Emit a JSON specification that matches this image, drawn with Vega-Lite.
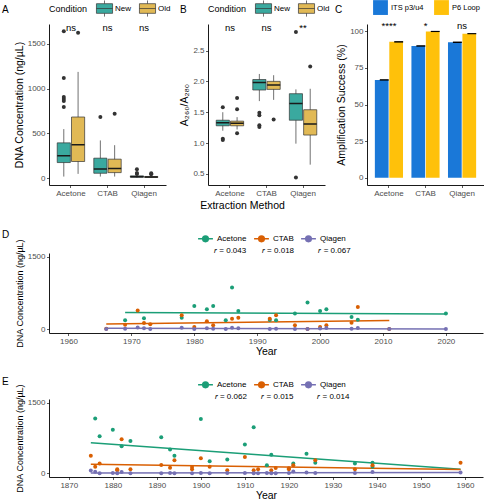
{
  "$schema": "https://vega.github.io/schema/vega-lite/v6.json",
  "background": "white",
  "padding": {"left": 2, "top": 0, "right": 0, "bottom": 0},
  "config": {
    "font": "Liberation Sans",
    "view": {"stroke": null},
    "axis": {"grid": false, "domainColor": "black", "domainWidth": 0.9, "tickColor": "#333333", "tickSize": 2.5, "tickWidth": 0.8, "labelColor": "#4D4D4D", "labelFontSize": 8, "labelPadding": 1.5, "titleFontSize": 10.5, "titleFontWeight": "normal", "titleColor": "black", "titlePadding": 3},
    "legend": {"labelFontSize": 8, "labelColor": "black", "titleFontSize": 9, "titleFontWeight": "normal", "titleColor": "black"},
    "title": {"fontSize": 10, "fontWeight": "normal", "anchor": "start", "frame": "group", "color": "black"}
  },
  "datasets": {
    "boxA": [
      {"method": "Acetone", "cond": "New", "lower": 19, "q1": 175, "median": 250, "q3": 395, "upper": 548},
      {"method": "Acetone", "cond": "Old", "lower": 49, "q1": 187, "median": 373, "q3": 683, "upper": 1186},
      {"method": "CTAB", "cond": "New", "lower": 19, "q1": 56, "median": 104, "q3": 224, "upper": 422},
      {"method": "CTAB", "cond": "Old", "lower": 19, "q1": 63, "median": 108, "q3": 213, "upper": 369},
      {"method": "Qiagen", "cond": "New", "lower": 5, "q1": 12, "median": 18, "q3": 27, "upper": 40},
      {"method": "Qiagen", "cond": "Old", "lower": 4, "q1": 9, "median": 13, "q3": 20, "upper": 35}
    ],
    "outA": [
      {"method": "Acetone", "cond": "New", "value": 795},
      {"method": "Acetone", "cond": "New", "value": 862},
      {"method": "Acetone", "cond": "New", "value": 884},
      {"method": "Acetone", "cond": "New", "value": 907},
      {"method": "Acetone", "cond": "New", "value": 1119},
      {"method": "Acetone", "cond": "New", "value": 1638},
      {"method": "Acetone", "cond": "Old", "value": 1623},
      {"method": "CTAB", "cond": "New", "value": 683},
      {"method": "CTAB", "cond": "Old", "value": 720},
      {"method": "Qiagen", "cond": "New", "value": 100},
      {"method": "Qiagen", "cond": "New", "value": 60},
      {"method": "Qiagen", "cond": "New", "value": 49},
      {"method": "Qiagen", "cond": "Old", "value": 56},
      {"method": "Qiagen", "cond": "Old", "value": 45}
    ],
    "sigA": [
      {"method": "Acetone", "label": "ns"},
      {"method": "CTAB", "label": "ns"},
      {"method": "Qiagen", "label": "ns"}
    ],
    "boxB": [
      {"method": "Acetone", "cond": "New", "lower": 1.2, "q1": 1.28, "median": 1.33, "q3": 1.37, "upper": 1.5},
      {"method": "Acetone", "cond": "Old", "lower": 1.22, "q1": 1.28, "median": 1.32, "q3": 1.355, "upper": 1.42},
      {"method": "CTAB", "cond": "New", "lower": 1.68, "q1": 1.86, "median": 1.98, "q3": 2.03, "upper": 2.12},
      {"method": "CTAB", "cond": "Old", "lower": 1.7, "q1": 1.87, "median": 1.94, "q3": 2.0, "upper": 2.1},
      {"method": "Qiagen", "cond": "New", "lower": 0.99, "q1": 1.37, "median": 1.64, "q3": 1.8, "upper": 1.87},
      {"method": "Qiagen", "cond": "Old", "lower": 0.65, "q1": 1.13, "median": 1.31, "q3": 1.54, "upper": 1.88}
    ],
    "outB": [
      {"method": "Acetone", "cond": "New", "value": 1.58},
      {"method": "Acetone", "cond": "New", "value": 1.07},
      {"method": "Acetone", "cond": "New", "value": 1.05},
      {"method": "Acetone", "cond": "Old", "value": 1.73},
      {"method": "Acetone", "cond": "Old", "value": 1.55},
      {"method": "Acetone", "cond": "Old", "value": 1.16},
      {"method": "CTAB", "cond": "New", "value": 1.49},
      {"method": "CTAB", "cond": "New", "value": 1.45},
      {"method": "CTAB", "cond": "New", "value": 1.29},
      {"method": "CTAB", "cond": "New", "value": 1.26},
      {"method": "CTAB", "cond": "Old", "value": 1.38},
      {"method": "Qiagen", "cond": "New", "value": 2.8},
      {"method": "Qiagen", "cond": "New", "value": 0.44},
      {"method": "Qiagen", "cond": "Old", "value": 2.24}
    ],
    "sigB": [
      {"method": "Acetone", "label": "ns"},
      {"method": "CTAB", "label": "ns"},
      {"method": "Qiagen", "label": "**"}
    ],
    "barC": [
      {"method": "Acetone", "primer": "ITS p3/u4", "value": 66.8, "lo": 66.3, "hi": 67.3},
      {"method": "Acetone", "primer": "P6 Loop", "value": 92.8, "lo": 92.3, "hi": 93.3},
      {"method": "CTAB", "primer": "ITS p3/u4", "value": 90.0, "lo": 89.5, "hi": 90.5},
      {"method": "CTAB", "primer": "P6 Loop", "value": 99.9, "lo": 99.5, "hi": 100.3},
      {"method": "Qiagen", "primer": "ITS p3/u4", "value": 92.5, "lo": 92.0, "hi": 93.0},
      {"method": "Qiagen", "primer": "P6 Loop", "value": 98.4, "lo": 98.0, "hi": 98.8}
    ],
    "sigC": [
      {"method": "Acetone", "label": "****"},
      {"method": "CTAB", "label": "*"},
      {"method": "Qiagen", "label": "ns"}
    ],
    "pointsD": [
      {"series": "Acetone", "year": 1969, "value": 187},
      {"series": "Acetone", "year": 1972, "value": 228},
      {"series": "Acetone", "year": 1978, "value": 242},
      {"series": "Acetone", "year": 1980, "value": 484},
      {"series": "Acetone", "year": 1982, "value": 415},
      {"series": "Acetone", "year": 1983, "value": 484},
      {"series": "Acetone", "year": 1985, "value": 187},
      {"series": "Acetone", "year": 1986, "value": 864},
      {"series": "Acetone", "year": 1987, "value": 380},
      {"series": "Acetone", "year": 1992, "value": 194},
      {"series": "Acetone", "year": 1993, "value": 187},
      {"series": "Acetone", "year": 1996, "value": 325},
      {"series": "Acetone", "year": 1998, "value": 553},
      {"series": "Acetone", "year": 2000, "value": 380},
      {"series": "Acetone", "year": 2001, "value": 415},
      {"series": "Acetone", "year": 2005, "value": 256},
      {"series": "Acetone", "year": 2006, "value": 200},
      {"series": "Acetone", "year": 2020, "value": 325},
      {"series": "CTAB", "year": 1966, "value": 15},
      {"series": "CTAB", "year": 1969, "value": 97},
      {"series": "CTAB", "year": 1971, "value": 387},
      {"series": "CTAB", "year": 1972, "value": 131},
      {"series": "CTAB", "year": 1973, "value": 104},
      {"series": "CTAB", "year": 1978, "value": 290},
      {"series": "CTAB", "year": 1980, "value": 48},
      {"series": "CTAB", "year": 1982, "value": 166},
      {"series": "CTAB", "year": 1983, "value": 83},
      {"series": "CTAB", "year": 1986, "value": 221},
      {"series": "CTAB", "year": 1987, "value": 242},
      {"series": "CTAB", "year": 1992, "value": 221},
      {"series": "CTAB", "year": 1993, "value": 290},
      {"series": "CTAB", "year": 1996, "value": 83},
      {"series": "CTAB", "year": 1998, "value": 8},
      {"series": "CTAB", "year": 2000, "value": 48},
      {"series": "CTAB", "year": 2001, "value": 83},
      {"series": "CTAB", "year": 2005, "value": 138},
      {"series": "CTAB", "year": 2006, "value": 463},
      {"series": "CTAB", "year": 2011, "value": 10},
      {"series": "Qiagen", "year": 1966, "value": 5},
      {"series": "Qiagen", "year": 1969, "value": 14},
      {"series": "Qiagen", "year": 1971, "value": 40},
      {"series": "Qiagen", "year": 1972, "value": 25},
      {"series": "Qiagen", "year": 1973, "value": 10},
      {"series": "Qiagen", "year": 1978, "value": 35},
      {"series": "Qiagen", "year": 1980, "value": 5},
      {"series": "Qiagen", "year": 1982, "value": 25},
      {"series": "Qiagen", "year": 1983, "value": 15},
      {"series": "Qiagen", "year": 1985, "value": 5},
      {"series": "Qiagen", "year": 1986, "value": 35},
      {"series": "Qiagen", "year": 1987, "value": 25},
      {"series": "Qiagen", "year": 1992, "value": 8},
      {"series": "Qiagen", "year": 1993, "value": 12},
      {"series": "Qiagen", "year": 1996, "value": 8},
      {"series": "Qiagen", "year": 1998, "value": 8},
      {"series": "Qiagen", "year": 2000, "value": 20},
      {"series": "Qiagen", "year": 2001, "value": 30},
      {"series": "Qiagen", "year": 2005, "value": 12},
      {"series": "Qiagen", "year": 2006, "value": 30},
      {"series": "Qiagen", "year": 2011, "value": 5},
      {"series": "Qiagen", "year": 2020, "value": 8}
    ],
    "linesD": [
      {"series": "Acetone", "year": 1969, "value": 346},
      {"series": "Acetone", "year": 2020, "value": 318},
      {"series": "CTAB", "year": 1966, "value": 110},
      {"series": "CTAB", "year": 2011, "value": 185},
      {"series": "Qiagen", "year": 1966, "value": 22},
      {"series": "Qiagen", "year": 2020, "value": 10}
    ],
    "rD": [
      {"series": "Acetone", "label": "𝑟 = 0.043"},
      {"series": "CTAB", "label": "𝑟 = 0.018"},
      {"series": "Qiagen", "label": "𝑟 = 0.067"}
    ],
    "pointsE": [
      {"series": "Acetone", "year": 1876, "value": 1164},
      {"series": "Acetone", "year": 1877, "value": 788},
      {"series": "Acetone", "year": 1880, "value": 925},
      {"series": "Acetone", "year": 1882, "value": 575},
      {"series": "Acetone", "year": 1884, "value": 685},
      {"series": "Acetone", "year": 1891, "value": 767},
      {"series": "Acetone", "year": 1893, "value": 507},
      {"series": "Acetone", "year": 1894, "value": 377},
      {"series": "Acetone", "year": 1900, "value": 1151},
      {"series": "Acetone", "year": 1902, "value": 260},
      {"series": "Acetone", "year": 1906, "value": 295},
      {"series": "Acetone", "year": 1910, "value": 610},
      {"series": "Acetone", "year": 1912, "value": 980},
      {"series": "Acetone", "year": 1915, "value": 171},
      {"series": "Acetone", "year": 1916, "value": 397},
      {"series": "Acetone", "year": 1921, "value": 212},
      {"series": "Acetone", "year": 1924, "value": 418},
      {"series": "Acetone", "year": 1926, "value": 226},
      {"series": "Acetone", "year": 1935, "value": 212},
      {"series": "Acetone", "year": 1939, "value": 226},
      {"series": "Acetone", "year": 1939, "value": 144},
      {"series": "CTAB", "year": 1875, "value": 377},
      {"series": "CTAB", "year": 1876, "value": 144},
      {"series": "CTAB", "year": 1877, "value": 212},
      {"series": "CTAB", "year": 1881, "value": 89},
      {"series": "CTAB", "year": 1881, "value": 70},
      {"series": "CTAB", "year": 1882, "value": 726},
      {"series": "CTAB", "year": 1884, "value": 89},
      {"series": "CTAB", "year": 1891, "value": 178},
      {"series": "CTAB", "year": 1893, "value": 123},
      {"series": "CTAB", "year": 1894, "value": 281},
      {"series": "CTAB", "year": 1898, "value": 137},
      {"series": "CTAB", "year": 1898, "value": 89},
      {"series": "CTAB", "year": 1900, "value": 322},
      {"series": "CTAB", "year": 1902, "value": 144},
      {"series": "CTAB", "year": 1906, "value": 68},
      {"series": "CTAB", "year": 1910, "value": 349},
      {"series": "CTAB", "year": 1912, "value": 68},
      {"series": "CTAB", "year": 1913, "value": 89},
      {"series": "CTAB", "year": 1916, "value": 68},
      {"series": "CTAB", "year": 1917, "value": 116},
      {"series": "CTAB", "year": 1920, "value": 89},
      {"series": "CTAB", "year": 1920, "value": 110},
      {"series": "CTAB", "year": 1921, "value": 171},
      {"series": "CTAB", "year": 1926, "value": 281},
      {"series": "CTAB", "year": 1935, "value": 89},
      {"series": "CTAB", "year": 1939, "value": 171},
      {"series": "CTAB", "year": 1959, "value": 226},
      {"series": "Qiagen", "year": 1875, "value": 62},
      {"series": "Qiagen", "year": 1876, "value": 35},
      {"series": "Qiagen", "year": 1877, "value": 5},
      {"series": "Qiagen", "year": 1880, "value": 10},
      {"series": "Qiagen", "year": 1881, "value": 5},
      {"series": "Qiagen", "year": 1882, "value": 30},
      {"series": "Qiagen", "year": 1884, "value": 5},
      {"series": "Qiagen", "year": 1891, "value": 5},
      {"series": "Qiagen", "year": 1893, "value": 10},
      {"series": "Qiagen", "year": 1894, "value": 5},
      {"series": "Qiagen", "year": 1898, "value": 5},
      {"series": "Qiagen", "year": 1900, "value": 10},
      {"series": "Qiagen", "year": 1902, "value": 5},
      {"series": "Qiagen", "year": 1906, "value": 10},
      {"series": "Qiagen", "year": 1910, "value": 10},
      {"series": "Qiagen", "year": 1912, "value": 5},
      {"series": "Qiagen", "year": 1913, "value": 5},
      {"series": "Qiagen", "year": 1915, "value": 10},
      {"series": "Qiagen", "year": 1916, "value": 5},
      {"series": "Qiagen", "year": 1917, "value": 5},
      {"series": "Qiagen", "year": 1920, "value": 10},
      {"series": "Qiagen", "year": 1921, "value": 40},
      {"series": "Qiagen", "year": 1924, "value": 20},
      {"series": "Qiagen", "year": 1926, "value": 10},
      {"series": "Qiagen", "year": 1935, "value": 10},
      {"series": "Qiagen", "year": 1939, "value": 30},
      {"series": "Qiagen", "year": 1959, "value": 20}
    ],
    "linesE": [
      {"series": "Acetone", "year": 1875, "value": 650},
      {"series": "Acetone", "year": 1959, "value": 89},
      {"series": "CTAB", "year": 1875, "value": 195},
      {"series": "CTAB", "year": 1959, "value": 85},
      {"series": "Qiagen", "year": 1875, "value": 12},
      {"series": "Qiagen", "year": 1959, "value": 22}
    ],
    "rE": [
      {"series": "Acetone", "label": "𝑟 = 0.062"},
      {"series": "CTAB", "label": "𝑟 = 0.015"},
      {"series": "Qiagen", "label": "𝑟 = 0.014"}
    ]
  },
  "spacing": 19,
  "resolve": {"scale": {"color": "independent", "fill": "independent", "x": "independent", "y": "independent"}, "legend": {"color": "independent", "fill": "independent"}},
  "vconcat": [
    {
      "bounds": "flush",
      "spacing": 42,
      "resolve": {"scale": {"fill": "independent", "x": "independent", "y": "independent", "xOffset": "independent"}, "legend": {"fill": "independent"}},
      "hconcat": [
        {
          "width": 117, "height": 161,
          "title": {"text": "A", "dx": -47, "dy": 19},
          "layer": [
            {"data": {"name": "boxA"}, "mark": {"type": "rule", "color": "#333333", "strokeWidth": 0.7},
             "encoding": {
               "x": {"field": "method", "type": "nominal", "sort": ["Acetone", "CTAB", "Qiagen"], "scale": {"paddingInner": 0.25, "paddingOuter": 0.225}, "axis": {"title": null, "labelAngle": 0}},
               "xOffset": {"field": "cond", "type": "nominal", "sort": ["New", "Old"], "scale": {"paddingInner": 0.08, "paddingOuter": 0}},
               "y": {"field": "lower", "type": "quantitative", "scale": {"domain": [-75, 1720], "nice": false, "zero": false}, "axis": {"title": "DNA Concentration (ng/µL)", "values": [0, 500, 1000, 1500], "format": "d"}},
               "y2": {"field": "upper"}}},
            {"data": {"name": "boxA"}, "mark": {"type": "bar", "stroke": "#333333", "strokeWidth": 0.7},
             "encoding": {
               "x": {"field": "method", "type": "nominal", "sort": ["Acetone", "CTAB", "Qiagen"]},
               "xOffset": {"field": "cond", "type": "nominal", "sort": ["New", "Old"]},
               "y": {"field": "q1", "type": "quantitative"}, "y2": {"field": "q3"},
               "fill": {"field": "cond", "type": "nominal", "scale": {"domain": ["New", "Old"], "range": ["#3AA99F", "#E1B955"]},
                        "legend": {"orient": "none", "legendX": 0, "legendY": -24, "direction": "horizontal", "title": "Condition", "titleOrient": "left", "titlePadding": 8, "symbolType": "M-1,-0.6H1V0.6H-1ZM-1,0H1M0,-0.6V-1M0,0.6V1", "symbolSize": 260, "symbolStrokeColor": "#333333", "symbolStrokeWidth": 0.7, "labelOffset": 2, "columnPadding": 6}}}},
            {"data": {"name": "boxA"}, "mark": {"type": "bar", "stroke": "#1A1A1A", "strokeWidth": 1.5, "fillOpacity": 0},
             "encoding": {
               "x": {"field": "method", "type": "nominal", "sort": ["Acetone", "CTAB", "Qiagen"]},
               "xOffset": {"field": "cond", "type": "nominal", "sort": ["New", "Old"]},
               "y": {"field": "median", "type": "quantitative"}, "y2": {"field": "median"}}},
            {"data": {"name": "outA"}, "mark": {"type": "circle", "size": 16, "color": "#333333", "opacity": 1},
             "encoding": {
               "x": {"field": "method", "type": "nominal", "sort": ["Acetone", "CTAB", "Qiagen"]},
               "xOffset": {"field": "cond", "type": "nominal", "sort": ["New", "Old"]},
               "y": {"field": "value", "type": "quantitative"}}},
            {"data": {"name": "sigA"}, "mark": {"type": "text", "fontSize": 9.5, "baseline": "middle", "color": "black"},
             "encoding": {
               "x": {"field": "method", "type": "nominal", "sort": ["Acetone", "CTAB", "Qiagen"]},
               "y": {"datum": 1680},
               "text": {"field": "label"}}}
          ]
        },
        {
          "width": 117, "height": 161,
          "title": {"text": "B", "dx": -28, "dy": 19},
          "layer": [
            {"data": {"name": "boxB"}, "mark": {"type": "rule", "color": "#333333", "strokeWidth": 0.7},
             "encoding": {
               "x": {"field": "method", "type": "nominal", "sort": ["Acetone", "CTAB", "Qiagen"], "scale": {"paddingInner": 0.25, "paddingOuter": 0.225}, "axis": {"title": "Extraction Method", "labelAngle": 0, "titleX": 34, "titlePadding": 3.5}},
               "xOffset": {"field": "cond", "type": "nominal", "sort": ["New", "Old"], "scale": {"paddingInner": 0.08, "paddingOuter": 0}},
               "y": {"field": "lower", "type": "quantitative", "scale": {"domain": [0.32, 2.93], "nice": false, "zero": false}, "axis": {"title": "A₂₆₀/A₂₈₀", "values": [0.5, 1.0, 1.5, 2.0, 2.5], "format": ".1f"}},
               "y2": {"field": "upper"}}},
            {"data": {"name": "boxB"}, "mark": {"type": "bar", "stroke": "#333333", "strokeWidth": 0.7},
             "encoding": {
               "x": {"field": "method", "type": "nominal", "sort": ["Acetone", "CTAB", "Qiagen"]},
               "xOffset": {"field": "cond", "type": "nominal", "sort": ["New", "Old"]},
               "y": {"field": "q1", "type": "quantitative"}, "y2": {"field": "q3"},
               "fill": {"field": "cond", "type": "nominal", "scale": {"domain": ["New", "Old"], "range": ["#3AA99F", "#E1B955"]},
                        "legend": {"orient": "none", "legendX": 0, "legendY": -24, "direction": "horizontal", "title": "Condition", "titleOrient": "left", "titlePadding": 8, "symbolType": "M-1,-0.6H1V0.6H-1ZM-1,0H1M0,-0.6V-1M0,0.6V1", "symbolSize": 260, "symbolStrokeColor": "#333333", "symbolStrokeWidth": 0.7, "labelOffset": 2, "columnPadding": 6}}}},
            {"data": {"name": "boxB"}, "mark": {"type": "bar", "stroke": "#1A1A1A", "strokeWidth": 1.5, "fillOpacity": 0},
             "encoding": {
               "x": {"field": "method", "type": "nominal", "sort": ["Acetone", "CTAB", "Qiagen"]},
               "xOffset": {"field": "cond", "type": "nominal", "sort": ["New", "Old"]},
               "y": {"field": "median", "type": "quantitative"}, "y2": {"field": "median"}}},
            {"data": {"name": "outB"}, "mark": {"type": "circle", "size": 16, "color": "#333333", "opacity": 1},
             "encoding": {
               "x": {"field": "method", "type": "nominal", "sort": ["Acetone", "CTAB", "Qiagen"]},
               "xOffset": {"field": "cond", "type": "nominal", "sort": ["New", "Old"]},
               "y": {"field": "value", "type": "quantitative"}}},
            {"data": {"name": "sigB"}, "mark": {"type": "text", "fontSize": 9.5, "baseline": "middle", "color": "black"},
             "encoding": {
               "x": {"field": "method", "type": "nominal", "sort": ["Acetone", "CTAB", "Qiagen"]},
               "y": {"datum": 2.87},
               "text": {"field": "label"}}}
          ]
        },
        {
          "width": 117, "height": 161,
          "title": {"text": "C", "dx": -32, "dy": 19},
          "layer": [
            {"data": {"name": "barC"}, "mark": {"type": "bar"},
             "encoding": {
               "x": {"field": "method", "type": "nominal", "sort": ["Acetone", "CTAB", "Qiagen"], "scale": {"paddingInner": 0.23, "paddingOuter": 0.215}, "axis": {"title": null, "labelAngle": 0}},
               "xOffset": {"field": "primer", "type": "nominal", "sort": ["ITS p3/u4", "P6 Loop"], "scale": {"paddingInner": 0.05, "paddingOuter": 0}},
               "y": {"field": "value", "type": "quantitative", "scale": {"domain": [-5, 105], "nice": false, "zero": false}, "axis": {"title": "Amplification Success (%)", "values": [0, 25, 50, 75, 100]}},
               "y2": {"datum": 0},
               "fill": {"field": "primer", "type": "nominal", "scale": {"domain": ["ITS p3/u4", "P6 Loop"], "range": ["#1A78D8", "#FFC10A"]},
                        "legend": {"orient": "none", "legendX": 6, "legendY": -24, "direction": "horizontal", "title": null, "symbolType": "square", "symbolSize": 220, "symbolStrokeWidth": 0, "labelFontSize": 7.5, "labelOffset": 3, "columnPadding": 10}}}},
            {"data": {"name": "barC"}, "mark": {"type": "bar", "color": "black", "width": {"band": 0.65}},
             "encoding": {
               "x": {"field": "method", "type": "nominal", "sort": ["Acetone", "CTAB", "Qiagen"]},
               "xOffset": {"field": "primer", "type": "nominal", "sort": ["ITS p3/u4", "P6 Loop"]},
               "y": {"field": "lo", "type": "quantitative"}, "y2": {"field": "hi"}}},
            {"data": {"name": "sigC"}, "mark": {"type": "text", "fontSize": 9.5, "baseline": "middle", "color": "black"},
             "encoding": {
               "x": {"field": "method", "type": "nominal", "sort": ["Acetone", "CTAB", "Qiagen"]},
               "y": {"datum": 103.5},
               "text": {"field": "label"}}}
          ]
        }
      ]
    },
    {
      "width": 434, "height": 80,
      "title": {"text": "D", "dx": -47, "dy": 14},
      "layer": [
        {"data": {"name": "linesD"}, "mark": {"type": "line", "strokeWidth": 1.5},
         "encoding": {
           "x": {"field": "year", "type": "quantitative", "scale": {"domain": [1956.9, 2025.9], "nice": false, "zero": false}, "axis": {"title": "Year", "titlePadding": 1.5, "values": [1960, 1970, 1980, 1990, 2000, 2010, 2020], "format": "d"}},
           "y": {"field": "value", "type": "quantitative", "scale": {"domain": [-75, 1575], "nice": false, "zero": false}, "axis": {"title": "DNA Concentration (ng/µL)", "titleFontSize": 9, "values": [0, 500, 1000, 1500], "format": "d"}},
           "color": {"field": "series", "type": "nominal", "scale": {"domain": ["Acetone", "CTAB", "Qiagen"], "range": ["#1B9E77", "#D95F02", "#7570B3"]},
                     "legend": {"orient": "none", "legendX": 148, "legendY": -23, "direction": "horizontal", "title": null, "symbolType": "M-1,0H1M0.38,0A0.38,0.38,0,1,1,-0.38,0A0.38,0.38,0,1,1,0.38,0", "symbolSize": 220, "symbolStrokeWidth": 1.5, "labelOffset": 3, "columnPadding": 4,
                                "encode": {"symbols": {"update": {"fill": {"scale": "color", "field": "value"}, "stroke": {"scale": "color", "field": "value"}}}}}}}},
        {"data": {"name": "pointsD"}, "mark": {"type": "circle", "size": 16, "opacity": 1},
         "encoding": {
           "x": {"field": "year", "type": "quantitative"},
           "y": {"field": "value", "type": "quantitative"},
           "color": {"field": "series", "type": "nominal"}}},
        {"data": {"name": "rD"}, "transform": [{"filter": "datum.series == 'Acetone'"}], "mark": {"type": "text", "fontSize": 8, "baseline": "middle", "color": "black"},
         "encoding": {"x": {"datum": 1985.7}, "y": {"datum": 1620}, "text": {"field": "label"}}},
        {"data": {"name": "rD"}, "transform": [{"filter": "datum.series == 'CTAB'"}], "mark": {"type": "text", "fontSize": 8, "baseline": "middle", "color": "black"},
         "encoding": {"x": {"datum": 1993.3}, "y": {"datum": 1620}, "text": {"field": "label"}}},
        {"data": {"name": "rD"}, "transform": [{"filter": "datum.series == 'Qiagen'"}], "mark": {"type": "text", "fontSize": 8, "baseline": "middle", "color": "black"},
         "encoding": {"x": {"datum": 2002.3}, "y": {"datum": 1620}, "text": {"field": "label"}}}
      ]
    },
    {
      "width": 434, "height": 78,
      "title": {"text": "E", "dx": -47, "dy": 15},
      "layer": [
        {"data": {"name": "linesE"}, "mark": {"type": "line", "strokeWidth": 1.5},
         "encoding": {
           "x": {"field": "year", "type": "quantitative", "scale": {"domain": [1865.5, 1964.1], "nice": false, "zero": false}, "axis": {"title": "Year", "titlePadding": 1.5, "values": [1870, 1880, 1890, 1900, 1910, 1920, 1930, 1940, 1950, 1960], "format": "d"}},
           "y": {"field": "value", "type": "quantitative", "scale": {"domain": [-75, 1575], "nice": false, "zero": false}, "axis": {"title": "DNA Concentration (ng/µL)", "titleFontSize": 9, "values": [0, 500, 1000, 1500], "format": "d"}},
           "color": {"field": "series", "type": "nominal", "scale": {"domain": ["Acetone", "CTAB", "Qiagen"], "range": ["#1B9E77", "#D95F02", "#7570B3"]},
                     "legend": {"orient": "none", "legendX": 148, "legendY": -23, "direction": "horizontal", "title": null, "symbolType": "M-1,0H1M0.38,0A0.38,0.38,0,1,1,-0.38,0A0.38,0.38,0,1,1,0.38,0", "symbolSize": 220, "symbolStrokeWidth": 1.5, "labelOffset": 3, "columnPadding": 4,
                                "encode": {"symbols": {"update": {"fill": {"scale": "color", "field": "value"}, "stroke": {"scale": "color", "field": "value"}}}}}}}},
        {"data": {"name": "pointsE"}, "mark": {"type": "circle", "size": 16, "opacity": 1},
         "encoding": {
           "x": {"field": "year", "type": "quantitative"},
           "y": {"field": "value", "type": "quantitative"},
           "color": {"field": "series", "type": "nominal"}}},
        {"data": {"name": "rE"}, "transform": [{"filter": "datum.series == 'Acetone'"}], "mark": {"type": "text", "fontSize": 8, "baseline": "middle", "color": "black"},
         "encoding": {"x": {"datum": 1906.8}, "y": {"datum": 1620}, "text": {"field": "label"}}},
        {"data": {"name": "rE"}, "transform": [{"filter": "datum.series == 'CTAB'"}], "mark": {"type": "text", "fontSize": 8, "baseline": "middle", "color": "black"},
         "encoding": {"x": {"datum": 1917.4}, "y": {"datum": 1620}, "text": {"field": "label"}}},
        {"data": {"name": "rE"}, "transform": [{"filter": "datum.series == 'Qiagen'"}], "mark": {"type": "text", "fontSize": 8, "baseline": "middle", "color": "black"},
         "encoding": {"x": {"datum": 1930.1}, "y": {"datum": 1620}, "text": {"field": "label"}}}
      ]
    }
  ]
}
